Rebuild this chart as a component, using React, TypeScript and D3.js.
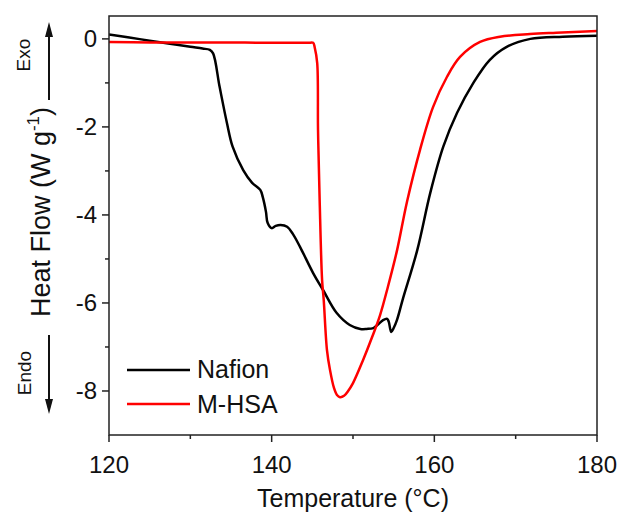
import React from "react";
import * as d3 from "d3";

const nafionT = [120, 122.5, 125, 127.5, 130, 131.5, 132.4, 132.8, 133.6, 134.5, 135.2, 136.5, 137.6, 138.6, 138.9, 139.3, 139.5, 140.0, 140.5, 141.1, 141.9, 142.6, 143.5, 145.1, 146.3, 148.0, 149.6, 150.9, 151.7, 152.5, 153.0, 153.7, 154.2, 154.4, 154.7, 155.0, 155.4, 156.1, 157.9, 159.5, 161.1, 162.8, 164.8, 166.8, 168.9, 171.8, 175.8, 180];
const nafionHF = [0.1, 0.03, -0.04, -0.11, -0.18, -0.22, -0.25, -0.33, -1.09, -1.91, -2.45, -2.98, -3.27, -3.43, -3.59, -3.93, -4.18, -4.3, -4.25, -4.23, -4.27, -4.43, -4.73, -5.32, -5.7, -6.23, -6.5, -6.59, -6.59, -6.57, -6.5, -6.39, -6.36, -6.43, -6.66, -6.57, -6.39, -5.93, -4.8, -3.5, -2.45, -1.68, -1.0, -0.48, -0.18, 0.0, 0.05, 0.07];

const mhsaT = [120, 125, 130, 135, 140, 143, 144.5, 145.1, 145.3, 145.6, 145.7, 145.9, 146.2, 146.4, 146.8, 147.17, 147.66, 148.03, 148.4, 148.9, 149.4, 150.0, 151.23, 152.34, 153.32, 154.31, 155.42, 156.64, 158.24, 159.84, 161.56, 163.16, 165.62, 168.07, 171.76, 175, 180];
const mhsaHF = [-0.07, -0.08, -0.08, -0.08, -0.09, -0.09, -0.09, -0.09, -0.2, -0.55, -2.07, -3.66, -5.48, -5.93, -7.07, -7.52, -7.93, -8.09, -8.14, -8.11, -8.0, -7.82, -7.3, -6.78, -6.28, -5.62, -4.8, -3.7, -2.52, -1.55, -0.86, -0.41, -0.07, 0.05, 0.11, 0.14, 0.18];

const xMajor = [120, 140, 160, 180];
const xMinor = [130, 150, 170];
const yMajor = [0, -2, -4, -6, -8];
const yMinor = [-1, -3, -5, -7];

const seriesNames = ["Nafion", "M-HSA"];
const seriesColors = ["#000000", "#ff0000"];

export default function App() {
  const W = 626, H = 526;
  const L = 109, R = 597, T = 16, B = 435;
  const x = d3.scaleLinear().domain([120, 180]).range([L, R]);
  const y = d3.scaleLinear().domain([-9, 0.52]).range([B, T]);
  const line = d3
    .line<[number, number]>()
    .x((d) => x(d[0]))
    .y((d) => y(d[1]))
    .curve(d3.curveCatmullRom.alpha(0.5));
  const nafion = nafionT.map((t, i) => [t, nafionHF[i]] as [number, number]);
  const mhsa = mhsaT.map((t, i) => [t, mhsaHF[i]] as [number, number]);
  const font = "'Liberation Sans', Arial, sans-serif";
  const axisColor = "#222";

  return (
    <svg width={W} height={H} style={{ position: "absolute", left: 0, top: 0 }} fontFamily={font}>
      <rect width={W} height={H} fill="#fff" />
      <defs>
        <clipPath id="plot">
          <rect x={L} y={T} width={R - L} height={B - T} />
        </clipPath>
      </defs>
      <g clipPath="url(#plot)">
        <path d={line(nafion) || ""} fill="none" stroke={seriesColors[0]} strokeWidth={2.5} strokeLinejoin="round" />
        <path d={line(mhsa) || ""} fill="none" stroke={seriesColors[1]} strokeWidth={2.5} strokeLinejoin="round" />
      </g>
      <rect x={L} y={T} width={R - L} height={B - T} fill="none" stroke={axisColor} strokeWidth={1.5} />
      {xMajor.map((v) => (
        <g key={"xm" + v}>
          <line x1={x(v)} x2={x(v)} y1={B} y2={B + 7} stroke={axisColor} strokeWidth={1.5} />
          <text x={x(v)} y={473} fontSize={24} textAnchor="middle" fill="#111">{v}</text>
        </g>
      ))}
      {xMinor.map((v) => (
        <line key={"xn" + v} x1={x(v)} x2={x(v)} y1={B} y2={B + 4} stroke={axisColor} strokeWidth={1.5} />
      ))}
      {yMajor.map((v) => (
        <g key={"ym" + v}>
          <line x1={L - 7} x2={L} y1={y(v)} y2={y(v)} stroke={axisColor} strokeWidth={1.5} />
          <text x={97} y={y(v)} dy="0.35em" fontSize={24} textAnchor="end" fill="#111">{v}</text>
        </g>
      ))}
      {yMinor.map((v) => (
        <line key={"yn" + v} x1={L - 4} x2={L} y1={y(v)} y2={y(v)} stroke={axisColor} strokeWidth={1.5} />
      ))}
      <text x={(L + R) / 2} y={507} fontSize={25} textAnchor="middle" fill="#111">Temperature (°C)</text>
      <text transform="translate(50,212) rotate(-90)" fontSize={27} textAnchor="middle" fill="#111">
        Heat Flow (W g<tspan fontSize={17} dy={-11}>-1</tspan><tspan dy={11}>)</tspan>
      </text>
      <text transform="translate(30,55) rotate(-90)" fontSize={19} textAnchor="middle" fill="#111">Exo</text>
      <text transform="translate(31,373) rotate(-90)" fontSize={19} textAnchor="middle" fill="#111">Endo</text>
      <line x1={49} x2={49} y1={100} y2={32} stroke="#111" strokeWidth={2} />
      <path d="M49,22 L45,37 L53,37 Z" fill="#111" />
      <line x1={49} x2={49} y1={335} y2={404} stroke="#111" strokeWidth={2} />
      <path d="M49,414 L45,399 L53,399 Z" fill="#111" />
      {seriesNames.map((n, i) => (
        <g key={n}>
          <line x1={127} x2={190} y1={370 + i * 34} y2={370 + i * 34} stroke={seriesColors[i]} strokeWidth={2.5} />
          <text x={197} y={378 + i * 35} fontSize={25} fill="#111">{n}</text>
        </g>
      ))}
    </svg>
  );
}
